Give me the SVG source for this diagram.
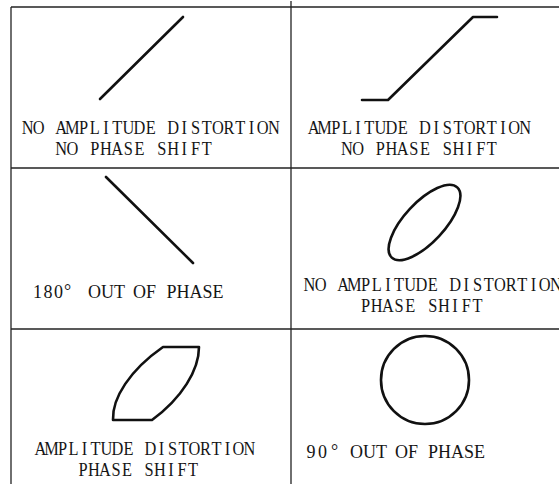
<svg xmlns="http://www.w3.org/2000/svg" width="559" height="484" viewBox="0 0 559 484">
<style>
.grid{stroke:#222;stroke-width:1.3;fill:none}
.fig{stroke:#111;stroke-width:2.6;fill:none;stroke-linejoin:round;stroke-linecap:round}
.tw{font-family:"Liberation Serif","Times New Roman",serif;font-size:18.6px;fill:#151515;text-anchor:middle}
.pr{font-family:"Liberation Serif","Times New Roman",serif;font-size:18px;fill:#151515}
</style>
<rect width="559" height="484" fill="#fff"/>
<g id="grid">
<line class="grid" x1="11" y1="7" x2="559" y2="7"/>
<line class="grid" x1="11" y1="168" x2="559" y2="168"/>
<line class="grid" x1="11" y1="329" x2="559" y2="329"/>
<line class="grid" x1="11" y1="7" x2="11" y2="484"/>
<line class="grid" x1="291" y1="1" x2="291" y2="484"/>
</g>
<g id="cell1">
<line class="fig" x1="100" y1="99" x2="183" y2="17"/>
<g transform="scale(0.88,1)">
<text class="tw" y="134" x="31.3 44 56.7 69.4 82.2 94.9 107.6 120.3 133.1 145.8 158.5 171.3 184 196.7 209.4 222.2 234.9 247.6 260.3 273.1 285.8 298.5 311.3">NO AMPLITUDE DISTORTION</text>
<text class="tw" y="155" x="69.4 82.2 94.9 107.6 120.3 133.1 145.8 158.5 171.3 184 196.7 209.4 222.2 234.9">NO PHASE SHIFT</text>
</g>
</g>
<g id="cell2">
<polyline class="fig" points="362,100 388,100 473,17 497,17"/>
<g transform="scale(0.88,1)">
<text class="tw" y="134" x="356.3 368.9 381.6 394.3 406.9 419.6 432.3 444.9 457.6 470.3 482.9 495.6 508.3 520.9 533.6 546.3 558.9 571.6 584.3 596.9">AMPLITUDE DISTORTION</text>
<text class="tw" y="155" x="394.3 406.9 419.6 432.3 444.9 457.6 470.3 482.9 495.6 508.3 520.9 533.6 546.3 558.9">NO PHASE SHIFT</text>
</g>
</g>
<g id="cell3">
<line class="fig" x1="106" y1="177" x2="193" y2="263"/>
<text class="pr" y="298"><tspan x="33" letter-spacing="1.5">180</tspan><tspan x="64" dy="-1">°</tspan><tspan x="88" dy="1">OUT</tspan><tspan x="133">OF</tspan><tspan x="166.5">PHASE</tspan></text>
</g>
<g id="cell4">
<ellipse class="fig" cx="424.5" cy="222.5" rx="48" ry="20" transform="rotate(-47 424.5 222.5)"/>
<g transform="scale(0.88,1)">
<text class="tw" y="291" x="351.7 364.4 377.2 389.9 402.6 415.3 428.1 440.8 453.5 466.2 479 491.7 504.4 517.1 529.9 542.6 555.3 568 580.8 593.5 606.2 618.9 631.7">NO AMPLITUDE DISTORTION</text>
<text class="tw" y="312" x="415.3 428.1 440.8 453.5 466.2 479 491.7 504.4 517.1 529.9 542.6">PHASE SHIFT</text>
</g>
</g>
<g id="cell5">
<path class="fig" d="M113,420 L152,420 C182,398 199,370 199,347 L163,347 C130,370 112,398 113,420 Z"/>
<g transform="scale(0.88,1)">
<text class="tw" y="455" x="46 58.5 71 83.5 96 108.5 121 133.5 146 158.5 171 183.5 196 208.5 221 233.5 246 258.5 271 283.5">AMPLITUDE DISTORTION</text>
<text class="tw" y="476" x="94.3 106.8 119.3 131.8 144.3 156.8 169.3 181.8 194.3 206.8 219.3">PHASE SHIFT</text>
</g>
</g>
<g id="cell6">
<circle class="fig" cx="425" cy="380" r="44"/>
<text class="pr" y="458"><tspan x="306.5" letter-spacing="2.5">90</tspan><tspan x="331" dy="-1">°</tspan><tspan x="350" dy="1">OUT</tspan><tspan x="395">OF</tspan><tspan x="428">PHASE</tspan></text>
</g>
</svg>
